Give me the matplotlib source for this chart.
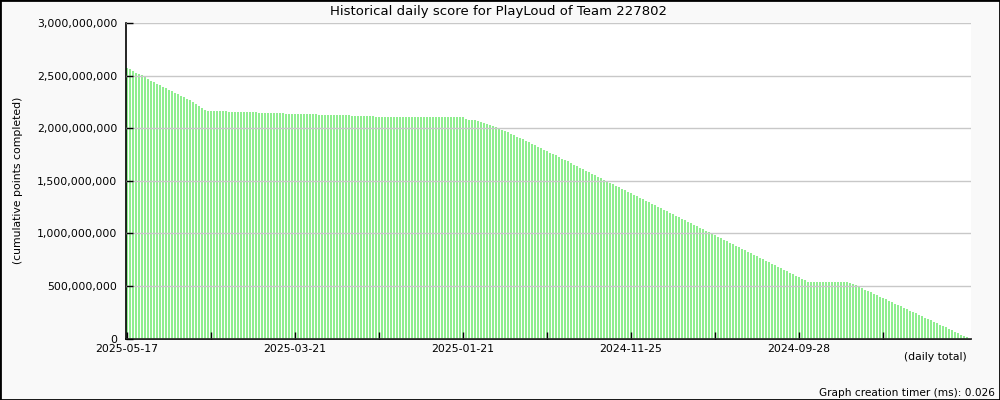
import numpy as np
import matplotlib
matplotlib.use("Agg")
from matplotlib import pyplot as plt
from matplotlib.patches import Rectangle
from matplotlib.ticker import FuncFormatter, MultipleLocator

# Daily cumulative score, newest day first (millions of points)
newest_drop = [2575, 2562, 2543, 2524, 2514, 2505, 2486, 2467, 2448, 2438,
               2419, 2410, 2391, 2381, 2362, 2352, 2333, 2324, 2305, 2295,
               2276, 2267, 2248, 2229, 2210, 2191, 2172]
plateau = ([2162] * 7 + [2152] * 10 + [2143] * 9 + [2133] * 11 +
           [2124] * 11 + [2114] * 8 + [2105] * 30)
ramp_start = [2090, 2080, 2078, 2076, 2067, 2060, 2050, 2040, 2030, 2020,
              2008, 1996, 1984, 1972, 1960, 1947, 1934, 1920, 1906, 1892,
              1878, 1864, 1850, 1836, 1822, 1810, 1796, 1782, 1768]
main_ramp = [1754, 1740, 1725, 1711, 1697, 1683, 1668, 1654, 1640, 1625,
             1611, 1597, 1583, 1568, 1554, 1540, 1525, 1511, 1497, 1483,
             1468, 1454, 1440, 1425, 1411, 1397, 1383, 1368, 1354, 1340,
             1325, 1311, 1297, 1283, 1268, 1254, 1240, 1226, 1211, 1197,
             1183, 1168, 1154, 1140, 1126, 1111, 1097, 1083, 1068, 1054,
             1040, 1026, 1011, 997, 983, 968, 954, 940, 926, 911,
             897, 883, 868, 854, 840, 826, 811, 797, 783, 768,
             754, 740, 726, 711, 697, 683, 668, 654, 640, 626,
             611, 597, 583, 568, 556]
low_plateau = [540] * 14
oldest_ramp = [530, 518, 505, 492, 478, 465, 452, 438, 425, 412,
               398, 385, 372, 358, 345, 332, 318, 305, 292, 278,
               265, 252, 238, 225, 212, 198, 185, 172, 158, 145,
               132, 118, 105, 92, 78, 65, 52, 38, 25, 12]

tick_labels = ["2025-05-17", "2025-03-21", "2025-01-21", "2024-11-25", "2024-09-28"]
days_per_label = 56

scores = np.array(newest_drop + plateau + ramp_start + main_ramp +
                  low_plateau + oldest_ramp) * 1e6
x = np.arange(len(scores))

fig = plt.figure(figsize=(10, 4), dpi=100, facecolor="#f9f9f9")
ax = fig.add_axes([0.1257, 0.1537, 0.845, 0.789])
ax.set_facecolor("white")

ax.bar(x, scores, width=0.67, color="#90ee90", linewidth=0, zorder=1)

ax.set_xlim(-0.43, len(scores) + 0.2)
ax.set_ylim(0, 3e9)

ax.yaxis.set_major_locator(MultipleLocator(5e8))
ax.yaxis.set_major_formatter(FuncFormatter(lambda v, p: f"{int(v):,}"))
ax.grid(axis="y", color="#c8c8c8", linewidth=1, zorder=2)
ax.set_axisbelow(False)

ax.set_xticks(x[::days_per_label][:len(tick_labels)])
ax.set_xticklabels(tick_labels)
ax.set_xticks(x[::days_per_label // 2][:2 * len(tick_labels)], minor=True)
ax.tick_params(axis="both", direction="in", length=5, width=1,
               labelsize=7.8, colors="black")
ax.tick_params(axis="x", which="minor", direction="in", length=5, width=1)
ax.tick_params(axis="x", pad=4)
ax.tick_params(axis="y", pad=6)

for side in ["top", "right"]:
    ax.spines[side].set_visible(False)
for side in ["left", "bottom"]:
    ax.spines[side].set_linewidth(1.2)

fig.text(0.498, 0.972, "Historical daily score for PlayLoud of Team 227802",
         ha="center", va="center", fontsize=9.5)
fig.text(0.018, 0.55, "(cumulative points completed)", rotation=90,
         ha="center", va="center", fontsize=7.8)
fig.text(0.967, 0.107, "(daily total)", ha="right", va="center", fontsize=7.8)
fig.text(0.995, 0.017, "Graph creation timer (ms): 0.026", ha="right",
         va="center", fontsize=7.6)

fig.patches.append(Rectangle((0, 0), 1, 1, transform=fig.transFigure,
                             fill=False, edgecolor="black", linewidth=2))

fig.savefig("out.png", dpi=100, facecolor=fig.get_facecolor())
